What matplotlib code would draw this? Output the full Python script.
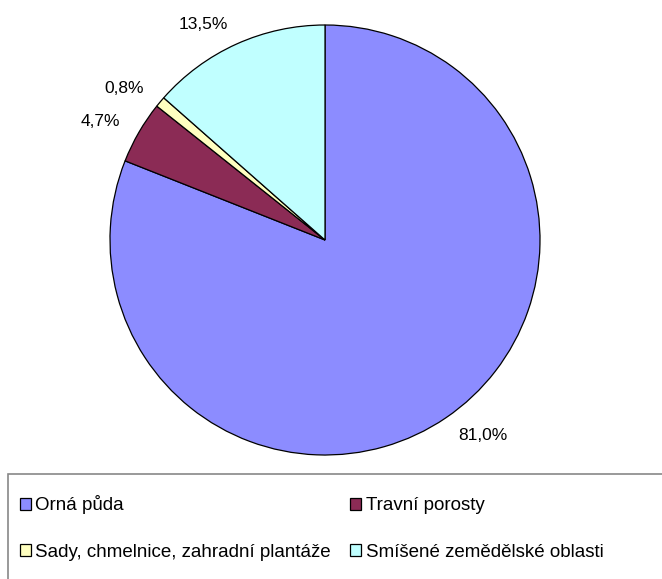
import matplotlib.pyplot as plt
from matplotlib.patches import Rectangle

categories = ["Orná půda", "Travní porosty", "Sady, chmelnice, zahradní plantáže", "Smíšené zemědělské oblasti"]
values = [81.0, 4.7, 0.8, 13.5]
labels = ["81,0%", "4,7%", "0,8%", "13,5%"]
colors = ["#8C8CFF", "#8B2B55", "#FFFFC0", "#C0FFFF"]

plt.rcParams['font.family'] = ['Liberation Sans', 'DejaVu Sans']

W, H = 662, 579
fig = plt.figure(figsize=(W / 100, H / 100), dpi=100)

# pie centre ~ (325, 240) px, radius ~215 px
cx, cy, r = 325, 240, 215
ax = fig.add_axes([(cx - r) / W, (H - cy - r) / H, 2 * r / W, 2 * r / H])
wedges, texts = ax.pie(values, labels=labels, colors=colors, startangle=90,
                       counterclock=False, labeldistance=1.1,
                       wedgeprops=dict(edgecolor="black", linewidth=0.9),
                       textprops=dict(fontsize=12.5))
ax.set_xlim(-1, 1)
ax.set_ylim(-1, 1)
ax.set_aspect("equal")

# legend frame, runs off the right and bottom edge
fig.patches.append(Rectangle((8 / W, -0.1), 1.0, (H - 474) / H + 0.1,
                             transform=fig.transFigure, facecolor="white",
                             edgecolor="#888888", linewidth=1.2, zorder=0))

# legend is filled row by row
order = [0, 2, 1, 3]
fig.legend([wedges[i] for i in order], [categories[i] for i in order],
           loc="upper left", bbox_to_anchor=(12 / W, 1 - 488 / H),
           ncol=2, frameon=False, fontsize=13.5, handlelength=0.6, handleheight=0.6,
           handletextpad=0.25, labelspacing=1.55, columnspacing=1.0, borderaxespad=0)

fig.savefig("out.png", dpi=100)
